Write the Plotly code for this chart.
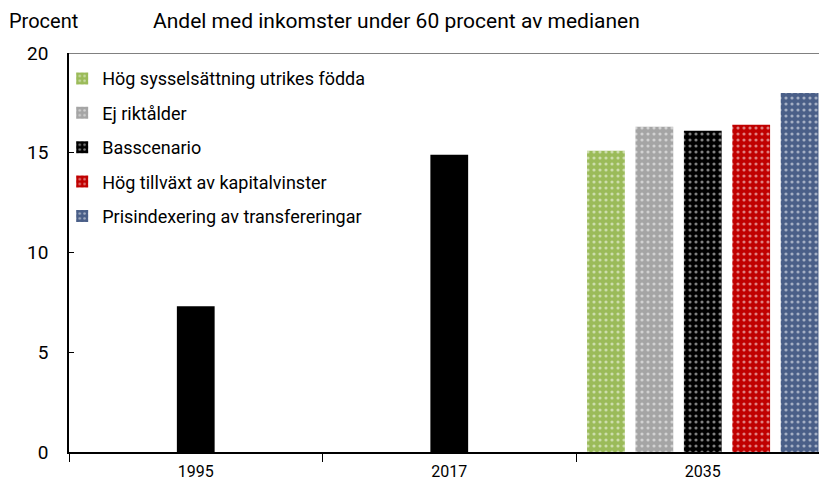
import plotly.graph_objects as go

categories = ["1995", "2017", "2035"]
series_names = [
    "Hög sysselsättning utrikes födda",
    "Ej riktålder",
    "Basscenario",
    "Hög tillväxt av kapitalvinster",
    "Prisindexering av transfereringar",
]
green_vals = [None, None, 15.1]
gray_vals = [None, None, 16.3]
black_vals = [7.3, 14.9, 16.1]
red_vals = [None, None, 16.4]
blue_vals = [None, None, 18.0]
y_ticks = [0, 5, 10, 15, 20]

colors = ["#9BBB59", "#A5A5A5", "#000000", "#C00000", "#4A5F88"]
all_vals = [green_vals, gray_vals, black_vals, red_vals, blue_vals]

FONT = "Roboto, sans-serif"

fig = go.Figure()
for i, (name, vals, col) in enumerate(zip(series_names, all_vals, colors)):
    # list 2035 first so the legend icon shows the patterned fill
    xs = categories[::-1]
    ys = vals[::-1]
    shapes = ["" if (name == "Basscenario" and c != "2035") else "." for c in xs]
    fig.add_trace(go.Bar(
        x=xs, y=ys, name=name,
        legendgroup=f"g{i}",
        marker=dict(
            color=col,
            line=dict(width=0),
            pattern=dict(shape=shapes, fgcolor="white", bgcolor=col,
                         size=6, solidity=0.22, fillmode="overlay"),
        ),
    ))

fig.add_shape(type="line", xref="paper", yref="y", x0=0, x1=1, y0=20, y1=20,
              line=dict(color="#808080", width=2))

fig.update_layout(
    width=819, height=479,
    margin=dict(l=61, r=0, t=45, b=35),
    paper_bgcolor="white", plot_bgcolor="white",
    barmode="group", bargap=0.045, bargroupgap=0.22,
    font=dict(family=FONT, size=19, color="black"),
    showlegend=True,
    legend=dict(x=-0.009, y=0.982, xanchor="left", yanchor="top",
                bgcolor="rgba(0,0,0,0)", font=dict(size=18),
                tracegroupgap=8, itemwidth=30),
    xaxis=dict(type="category", categoryorder="array", categoryarray=categories,
               range=[-0.5, 2.49], showline=True,
               linecolor="black", linewidth=1.5, ticks="outside",
               tickson="boundaries", ticklen=8, tickcolor="black",
               showgrid=False, tickfont=dict(size=16), ticklabelstandoff=4),
    yaxis=dict(range=[0, 20], tickvals=y_ticks, showline=True,
               linecolor="black", linewidth=1.5, ticks="inside", ticklen=5,
               tickcolor="black", showgrid=False, zeroline=False,
               tickfont=dict(size=19), ticklabelstandoff=15),
    annotations=[
        dict(text="Procent", xref="paper", yref="paper", x=-0.0805, y=1.1128,
             xanchor="left", yanchor="top", showarrow=False, borderpad=0,
             font=dict(size=20)),
        dict(text="Andel med inkomster under 60 procent av medianen",
             xref="paper", yref="paper", x=0.1095, y=1.1128,
             xanchor="left", yanchor="top", showarrow=False, borderpad=0,
             font=dict(size=21)),
    ],
)

fig.write_html("out.html")
